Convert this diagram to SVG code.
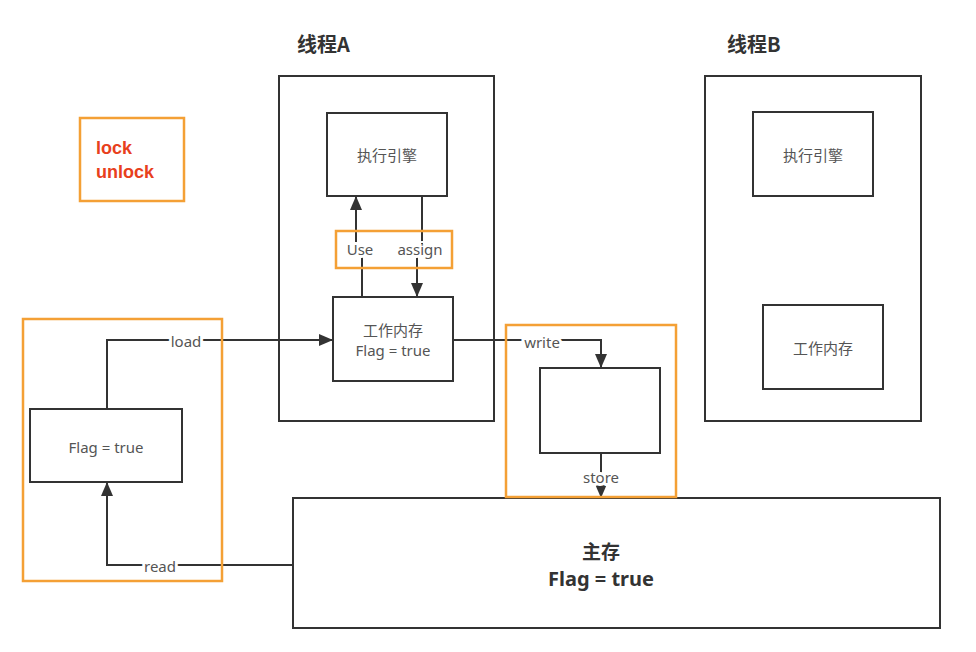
<svg xmlns="http://www.w3.org/2000/svg" width="976" height="652" viewBox="0 0 976 652">
<style>
.box{fill:#fff;stroke:#333;stroke-width:2}
.obox{fill:none;stroke:#f4a035;stroke-width:2.5}
.ln{fill:none;stroke:#333;stroke-width:2}
.t{font-family:"Noto Sans","Noto Sans CJK SC",sans-serif;font-size:15px;fill:#555;text-anchor:middle;dominant-baseline:central}
.lbl{font-family:"Noto Sans","Noto Sans CJK SC",sans-serif;font-size:15px;fill:#555;text-anchor:middle;dominant-baseline:central;stroke:#fff;stroke-width:6;paint-order:stroke;stroke-linejoin:round}
.title{font-family:"Noto Sans CJK SC","Noto Sans",sans-serif;font-size:20px;font-weight:bold;fill:#333}
.big{font-family:"Noto Sans CJK SC","Noto Sans",sans-serif;font-size:19px;font-weight:bold;fill:#333;text-anchor:middle;dominant-baseline:central}
.red{font-family:"Liberation Sans",Arial,sans-serif;font-size:18px;font-weight:bold;fill:#e8401c}
</style>
<defs>
<marker id="arr" markerUnits="userSpaceOnUse" markerWidth="14" markerHeight="12" viewBox="0 0 14 12" refX="14" refY="6" orient="auto">
<path d="M0,0 L14,6 L0,12 z" fill="#333"/>
</marker>
</defs>
<rect width="976" height="652" fill="#fff"/>

<g id="threadA">
<rect class="box" x="279" y="76" width="215" height="345"/>
<text class="title" x="297" y="52">线程A</text>
</g>
<g id="threadB">
<rect class="box" x="705" y="76" width="216" height="345"/>
<text class="title" x="727" y="52">线程B</text>
</g>
<g id="engineA">
<rect class="box" x="327" y="113" width="120" height="83"/>
<text class="t" x="387" y="155">执行引擎</text>
</g>
<g id="workA">
<rect class="box" x="333" y="297" width="120" height="84"/>
<text class="t" x="393" y="330">工作内存</text>
<text class="t" x="393" y="350">Flag = true</text>
</g>
<g id="engineB">
<rect class="box" x="753" y="112" width="120" height="84"/>
<text class="t" x="813" y="155">执行引擎</text>
</g>
<g id="workB">
<rect class="box" x="763" y="305" width="120" height="84"/>
<text class="t" x="823" y="348">工作内存</text>
</g>
<g id="flagLocal">
<rect class="box" x="30" y="409" width="152" height="73"/>
<text class="t" x="106" y="447">Flag = true</text>
</g>
<g id="buffer">
<rect class="box" x="540" y="368" width="120" height="85"/>
</g>
<g id="mainMem">
<rect class="box" x="293" y="498" width="647" height="130"/>
<text class="big" x="601" y="550">主存</text>
<text class="big" x="601" y="578" style="font-family:'Noto Sans','Noto Sans CJK SC',sans-serif;font-size:20px">Flag = true</text>
</g>

<g id="connectors">
<path class="ln" d="M107,409 V340 H333" marker-end="url(#arr)"/>
<path class="ln" d="M293,565 H107 V482" marker-end="url(#arr)"/>
<path class="ln" d="M362,297 V249 H356 V196" marker-end="url(#arr)"/>
<path class="ln" d="M422,196 V249 H417 V297" marker-end="url(#arr)"/>
<path class="ln" d="M453,340 H601 V368" marker-end="url(#arr)"/>
<path class="ln" d="M601,453 V498" marker-end="url(#arr)"/>
<text class="lbl" x="186" y="341">load</text>
<text class="lbl" x="160" y="566">read</text>
<text class="lbl" x="360" y="249">Use</text>
<text class="lbl" x="420" y="249">assign</text>
<text class="lbl" x="542" y="342">write</text>
<text class="lbl" x="601" y="477">store</text>
</g>

<g id="highlights">
<rect class="obox" x="80" y="118" width="104" height="83"/>
<text class="red" x="96" y="154">lock</text>
<text class="red" x="96" y="178">unlock</text>
<rect class="obox" x="336" y="231" width="116" height="37"/>
<rect class="obox" x="23" y="319" width="199" height="262"/>
<rect class="obox" x="506" y="325" width="170" height="172"/>
</g>
</svg>
